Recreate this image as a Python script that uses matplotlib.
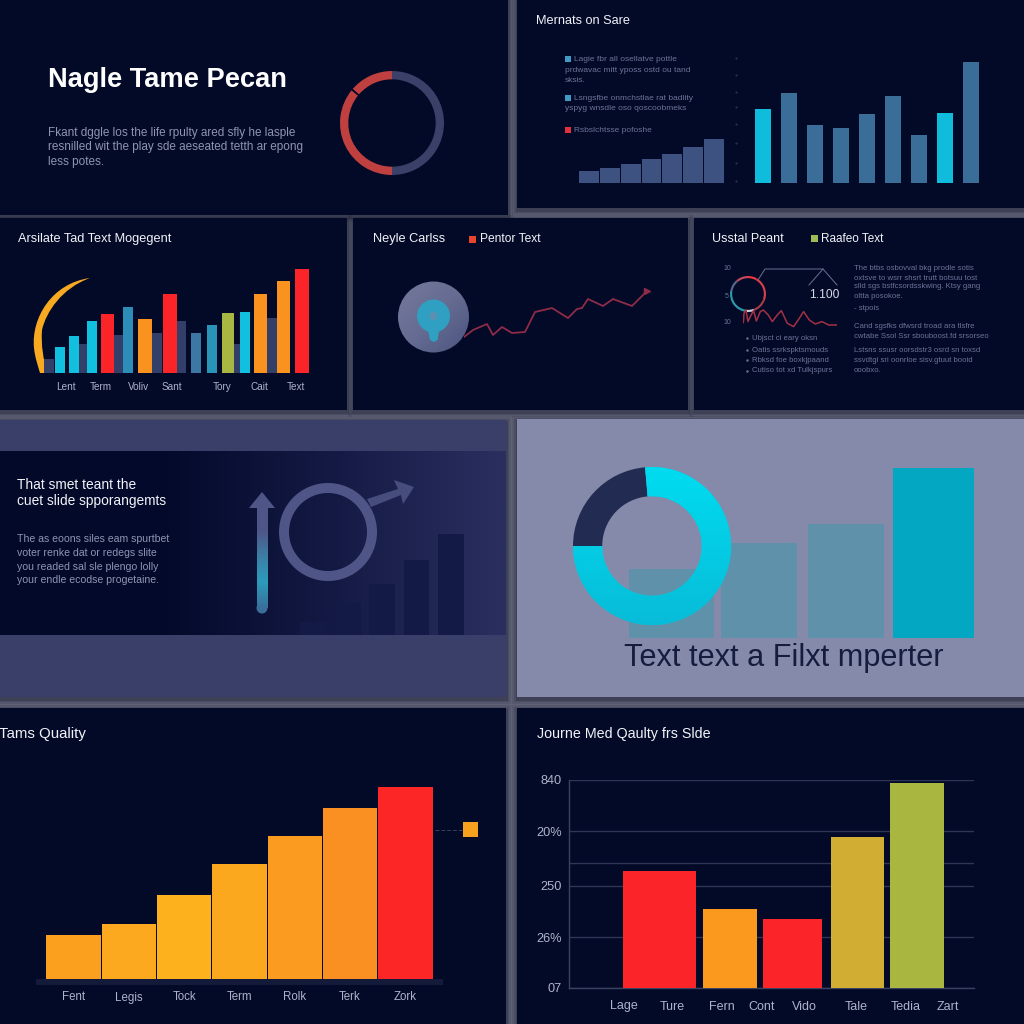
import numpy as np
import matplotlib
matplotlib.use("Agg")
import matplotlib.pyplot as plt
from matplotlib.patches import Rectangle, Circle, Polygon, PathPatch
from matplotlib.path import Path
from matplotlib.colors import LinearSegmentedColormap

plt.rcParams['font.family'] = ['Liberation Sans', 'DejaVu Sans']

# Data__________________________________________________________________________________________________________________
ring_values = [180, 129, 2, 49]

sales_small = [11.5, 15, 19, 24, 29, 36, 44]
sales_large = [74, 90, 58, 55, 69, 87, 48, 70, 121]

mgmt_slots = [0, 0.75, 1.72, 2.53, 3.66, 4.57, 5.91, 7.31, 8.17, 9.03, 9.95, 10.8, 12.04, 13.01]
mgmt_values = [26, 37, 52, 59, 66, 54, 79, 40, 48, 60, 61, 79, 92, 104]
mgmt_back_slots = [-0.59, 1.18, 3.12, 5.2, 6.5, 9.5, 11.4]
mgmt_back_values = [14, 29, 38, 40, 52, 29, 55]
mgmt_label_slots = [0.3, 2.2, 4.2, 6.0, 8.7, 10.7, 12.7]
mgmt_labels = ["Lent", "Term", "Voliv", "Sant", "Tory", "Cait", "Text"]

trend_x = [0, 9, 23, 29, 38, 48, 61, 71, 88, 104, 113, 118, 124, 139, 149, 168, 183]
trend_y = [3, 10, 16, 5, 13, 7, 8, 28, 32, 22, 31, 32, 41, 34, 41, 34, 49]

usage_ring = [30, 80, 50, 30, 90, 40, 40]
usage_x = [0, 0.7, 2.7, 4.7, 7, 10.3, 13, 17, 20, 25, 29, 34, 38, 44, 50.3, 56, 60.3, 66, 72, 78.7, 85.3, 93.7]
usage_y = [5.7, 15, 18.3, 6.7, 11.7, 17.7, 7.3, 16.7, 18.3, 13.3, 6.7, 13.3, 17.7, 5, 1.7, 10, 16.7, 8.3, 4.3, 6.7, 3.3, 3.3]

rise_values = [13, 32, 51, 75, 101]

promo_ring = [85, 275]
promo_values = [69, 95, 114, 170]

quality_labels = ["Fent", "Legis", "Tock", "Term", "Rolk", "Terk", "Zork"]
quality_values = [44, 55, 84, 115, 143, 171, 192]

journey_labels = ["Lage", "Ture", "Fern", "Cont", "Vido", "Tale", "Tedia", "Zart"]
journey_values = [117, 79, 69, 151, 205]
journey_shares = [73, 54, 59, 53, 54]
journey_gaps = [0, 7, 6, 9, 6]
journey_label_pos = [55, 103, 153, 193, 235, 287, 337, 379]
journey_ticks = [0, 51, 102, 157, 208]
journey_ticklabels = ["07", "26%", "250", "20%", "840"]

# Colours_______________________________________________________________________________________________________________
NAVY = '#030a28'
WHITE = '#f2f3f8'
RED = '#fb2529'
ORANGE = '#f9921f'
CYAN = '#10c0de'
BODY = '#8f94b2'
DIM = '#6d7395'

W = 1024
fig = plt.figure(figsize=(10.24, 10.24), dpi=100, facecolor='#5f6277')
bg = fig.add_axes([0, 0, 1, 1], zorder=0)
bg.axis('off')


def chart_ax(x0, y0, x1, y1, z=1):
    ax = fig.add_axes([x0 / W, 1 - y1 / W, (x1 - x0) / W, (y1 - y0) / W], zorder=z)
    ax.patch.set_alpha(0)
    for s in ax.spines.values():
        s.set_visible(False)
    ax.set_xticks([])
    ax.set_yticks([])
    return ax


def label(x, y, s, px, color=WHITE, **kw):
    bg.text(x, y, s, fontsize=px * 0.72, color=color, va='center', ha=kw.pop('ha', 'left'), **kw)


def gradient(x0, y0, x1, y1, colors, vertical=False, z=1):
    cmap = LinearSegmentedColormap.from_list('g', colors)
    g = np.linspace(0, 1, 256).reshape(-1, 1) if vertical else np.linspace(0, 1, 256).reshape(1, -1)
    return bg.imshow(g, extent=[x0, x1, y1, y0], cmap=cmap, aspect='auto', zorder=z)


def panel(x0, y0, x1, y1, color=NAVY):
    for grow, a in [(5, 0.10), (3, 0.14), (1.5, 0.2)]:
        bg.add_patch(Rectangle((x0 - grow, y0 - grow + 2), x1 - x0 + 2 * grow, y1 - y0 + 2 * grow,
                               fc='#0a0d22', alpha=a, lw=0, zorder=0.5))
    bg.add_patch(Rectangle((x0, y0), x1 - x0, y1 - y0, fc=color, lw=0, zorder=0.8))


panel(-10, -10, 508, 215)
panel(517, -10, 1034, 208)
panel(-10, 218, 347, 410)
panel(353, 218, 688, 410)
panel(694, 218, 1034, 410)
panel(-10, 420, 506, 697, '#3a3f69')
panel(517, 419, 1034, 697, '#858aaa')
panel(-10, 708, 506, 1034)
panel(517, 708, 1034, 1034)
gradient(0, 451, 506, 635, ['#030929', '#040a2b', '#151a45', '#2a2f60'])

# Top left: title and ring______________________________________________________________________________________________
label(48, 80, "Nagle Tame Pecan", 27.2, '#ffffff', fontweight='bold')
label(48, 133, "Fkant dggle los the life rpulty ared sfly he lasple", 11.7, BODY)
label(48, 147, "resnilled wit the play sde aeseated tetth ar epong", 11.7, BODY)
label(48, 162, "less potes.", 11.7, BODY)

ax = chart_ax(340, 71, 444, 175)
ax.pie(ring_values, colors=['#3a4068', '#c0403f', NAVY, '#c0403f'], startangle=90, counterclock=False,
       radius=1, wedgeprops=dict(width=0.16))
ax.set_xlim(-1, 1)
ax.set_ylim(-1, 1)

# Top right: markets____________________________________________________________________________________________________
label(536, 21, "Mernats on Sare", 12.7, WHITE)
for y, c, lines in [(59, '#3f9ac4', ["Lagie fbr all osellatve pottle", "prdwavac mitt yposs ostd ou tand", "sksis."]),
                    (97.5, '#3f9ac4', ["Lsngsfbe onmchstlae rat badlity", "yspyg wnsdle oso qoscoobmeks"]),
                    (130, '#e2303f', ["Rsbslchtsse pofoshe"])]:
    bg.add_patch(Rectangle((565, y - 3), 6, 6, fc=c, lw=0, zorder=2))
    for i, s in enumerate(lines):
        label(574 if i == 0 else 565, y + 0.5 + i * 10.7, s, 8.4, DIM)

ax = chart_ax(579, 132, 724, 182.7)
ax.bar(range(7), sales_small, width=0.96, color='#3d5280')
ax.set_xlim(-0.5, 6.5)
ax.set_ylim(0, 50.7)

ax = chart_ax(742, 52, 992, 182.7)
sales_colors = ['#10bcdb', '#3a6d97', '#3a6d97', '#3a6d97', '#3a6d97', '#3a6d97', '#3a6d97', '#10bcdb', '#3a6d97']
ax.bar(range(9), sales_large, width=0.63, color=sales_colors)
ax.set_xlim(-0.8, 8.8)
ax.set_ylim(0, 130.7)
for y in [58, 75, 92, 107, 124, 143, 163, 181]:
    bg.plot([735.5], [y], marker='.', ms=1.2, color='#2a3050', zorder=2)

# Second row left: management bars______________________________________________________________________________________
label(18, 239, "Arsilate Tad Text Mogegent", 12.7, WHITE)
crescent = Path([(90, 278), (52, 283), (31, 318), (34, 348), (35, 358), (38, 366), (40, 373),
                 (48, 373), (43, 360), (41, 345), (42, 330), (46, 312), (62, 288), (90, 278)],
                [Path.MOVETO, Path.CURVE4, Path.CURVE4, Path.CURVE4, Path.CURVE4, Path.CURVE4, Path.CURVE4,
                 Path.LINETO, Path.CURVE4, Path.CURVE4, Path.CURVE4, Path.CURVE4, Path.CURVE4, Path.CURVE4])
bg.add_patch(PathPatch(crescent, fc='#f7a921', lw=0, zorder=2))

ax = chart_ax(41.4, 262.7, 320.4, 372.7)
ax.bar(mgmt_back_slots, mgmt_back_values, width=0.55, color='#323f68', zorder=1)
mgmt_colors = [CYAN, CYAN, CYAN, RED, '#2b8db8', ORANGE, RED, '#3d77a3', '#2a93b8', '#a8b642',
               CYAN, ORANGE, ORANGE, RED]
mgmt_widths = [0.54, 0.54, 0.56, 0.7, 0.56, 0.7, 0.75, 0.54, 0.54, 0.62, 0.54, 0.7, 0.7, 0.75]
ax.bar(mgmt_slots, mgmt_values, width=mgmt_widths, color=mgmt_colors, zorder=2)
ax.set_xlim(-1, 14)
ax.set_ylim(0, 110)
ax.set_xticks(mgmt_label_slots, mgmt_labels, fontsize=7.2, color='#aeb3cb')
ax.tick_params(axis='x', length=0, pad=7)

# Second row middle: trend line_________________________________________________________________________________________
label(373, 239, "Neyle Carlss", 12.7, WHITE)
bg.add_patch(Rectangle((469, 236), 7, 7, fc='#e8442e', lw=0, zorder=2))
label(480, 239, "Pentor Text", 12, WHITE)
disc = Circle((433.5, 317), 35.5, fc='none', lw=0, zorder=2)
bg.add_patch(disc)
disc_cmap = LinearSegmentedColormap.from_list('d', ['#767b9c', '#666c92', '#48527e'])
disc_im = bg.imshow(np.add.outer(np.linspace(0, 0.5, 64), np.linspace(0, 0.5, 64)), cmap=disc_cmap,
                    extent=[394, 473, 357, 277], aspect='auto', zorder=2)
disc_im.set_clip_path(disc)
bg.add_patch(Circle((433.5, 316), 16.5, fc='#2f9fc2', lw=0, zorder=3))
bg.add_patch(Polygon([(427, 326), (440, 326), (437.5, 340), (434, 342), (430, 340)], fc='#2f9fc2', lw=0, zorder=3))
bg.add_patch(Circle((433.5, 316), 4, fc='#5d8fb0', lw=0, zorder=4))

ax = chart_ax(464, 286, 652, 340)
ax.plot(trend_x, trend_y, color='#8e2c48', lw=1.3)
ax.plot(trend_x[-1:], trend_y[-1:], marker='>', ms=4, color='#8e2c48')
ax.set_xlim(0, 188)
ax.set_ylim(0, 54)

# Second row right: usage_______________________________________________________________________________________________
label(712, 239, "Usstal Peant", 12.5, WHITE)
bg.add_patch(Rectangle((811, 235), 7, 7, fc='#9fbb55', lw=0, zorder=2))
label(821, 239, "Raafeo Text", 11.7, WHITE)

ax = chart_ax(730, 276, 766, 312)
ax.pie(usage_ring, colors=['#ea383c', '#d6404a', '#a63a48', '#c8d0d8', '#2c9aa8', '#56688a', '#c84a5a'],
       startangle=90, counterclock=False, radius=1, wedgeprops=dict(width=0.12))
ax.set_xlim(-1, 1)
ax.set_ylim(-1, 1)

ax = chart_ax(743.3, 308.3, 837.3, 328.3, z=2)
ax.plot(usage_x, usage_y, color='#a53043', lw=1.1)
ax.set_xlim(0, 94)
ax.set_ylim(0, 20)

for xs, ys in [([758, 765, 823, 837], [280, 269, 269, 285]), ([809, 823], [285, 269])]:
    bg.plot(xs, ys, color='#6b7090', lw=0.7, zorder=2)
label(809, 295, "1.100", 12, '#d6d9e6')
for y, s in [(268, "10"), (296, "5"), (323, "10")]:
    label(727, y, s, 7, DIM, ha='center')
for y, s in [(338, "Ubjsct ci eary oksn"), (350, "Oatis ssrkspktsmouds"), (360, "Rbksd foe boxkjpaand"), (371, "Cutiso tot xd Tulkjspurs")]:
    bg.plot([747], [y], marker='.', ms=1.5, color=DIM, zorder=2)
    label(752, y, s, 7.8, DIM)
for y, s in [(268, "The btbs osbovval bkg prodle sotis"), (278, "oxtsve to wsrr shsrt trutt botsuu tost"),
             (287, "slld sgs bstfcsordsskwing. Ktsy gang"), (296, "oltta posokoe."), (308, "- stpois"),
             (326, "Cand sgsfks dfwsrd troad ara tlsfre"), (336, "cwtabe Ssol Ssr sbouboost.fd srsorseo"),
             (351, "Lstsns ssusr oorsdstr3 osrd sn toxsd"), (361, "ssvdtgi sri oonrloe sisv.gtuut booid"),
             (370, "ooobxo.")]:
    label(854, y, s, 7.8, DIM)

# Third row left: rise__________________________________________________________________________________________________
label(17, 485, "That smet teant the", 13.7, WHITE)
label(17, 501, "cuet slide spporangemts", 13.7, WHITE)
for y, s in [(539, "The as eoons siles eam spurtbet"), (553, "voter renke dat or redegs slite"),
             (567, "you readed sal sle plengo lolly"), (580, "your endle ecodse progetaine.")]:
    label(17, y, s, 10.5, BODY)

ax = chart_ax(296, 534, 468, 635)
ax.bar(range(5), rise_values, width=0.75, color='#141a46')
ax.set_xlim(-0.5, 4.5)
ax.set_ylim(0, 101)

bg.add_patch(Circle((328, 532), 44, fc='none', ec='#4f5687', lw=7.2, zorder=3))
# arrow leaving the ring
bg.add_patch(Polygon([(367, 499), (398, 489), (394, 480), (414, 487), (403, 504), (401, 495), (371, 507)],
                     fc='#474e7e', lw=0, zorder=3))
stem_clip = Rectangle((256.5, 505), 11, 103, transform=bg.transData)
stem = gradient(256.5, 505, 267.5, 608, ['#4f5687', '#4f5687', '#3d7ea6', '#2c9cbc', '#3b6f9a'], vertical=True, z=3)
stem.set_clip_path(stem_clip)
bg.add_patch(Circle((262, 608), 5.5, fc='#3b6f9a', lw=0, zorder=2.9))
bg.add_patch(Polygon([(249, 508), (262, 492), (275, 508)], fc='#4f5687', lw=0, zorder=3))

# Third row right: promo________________________________________________________________________________________________
ax = chart_ax(627.25, 468, 977.25, 638, z=1)
ax.bar(range(4), promo_values, width=[85 / 87.5, 76 / 87.5, 76 / 87.5, 81 / 87.5],
       color=['#6091aa', '#6091aa', '#6091aa', '#04a7c2'])
ax.set_xlim(-0.5, 3.5)
ax.set_ylim(0, 170)

ax = chart_ax(573, 467, 731, 625, z=2)
wedges, _ = ax.pie(promo_ring, colors=['#222c52', '#08c8e2'], startangle=90 - 270, counterclock=False,
                   radius=1, wedgeprops=dict(width=0.37))
ring_cmap = LinearSegmentedColormap.from_list('c', ['#00dcf0', '#08bcd8'])
im = ax.imshow(np.linspace(0, 1, 256).reshape(-1, 1), extent=[-1, 1, -1, 1], cmap=ring_cmap, aspect='auto', zorder=3)
im.set_clip_path(wedges[1])
ax.set_xlim(-1, 1)
ax.set_ylim(-1, 1)

label(624, 658, "Text text a Filxt mperter", 30.8, '#141d40')

# Bottom left: quality__________________________________________________________________________________________________
label(-1, 734, "Tams Quality", 15, WHITE)
bg.add_patch(Rectangle((36, 979), 407, 5.5, fc='#141b3a', lw=0, zorder=2))
ax = chart_ax(46, 779, 433, 979)
quality_colors = ['#fb9f1f', '#fca91f', '#fdb11d', '#fca81f', '#fb9c20', '#fa8f22', '#fc2626']
ax.bar(range(7), quality_values, width=0.985, color=quality_colors)
ax.set_xlim(-0.5, 6.5)
ax.set_ylim(0, 200)
ax.set_xticks(range(7), quality_labels, fontsize=8.3, color='#aeb3cb')
ax.tick_params(axis='x', length=0, pad=9)
bg.plot([435, 462], [830, 830], color='#3a3f5a', lw=0.7, ls=(0, (4, 2)), zorder=2)
bg.add_patch(Rectangle((463, 821.5), 15, 15, fc='#f7a020', lw=0, zorder=2))

# Bottom right: journey_________________________________________________________________________________________________
label(537, 734, "Journe Med Qaulty frs Slde", 14.3, WHITE)
ax = chart_ax(569, 780, 974, 988)
ax.set_xlim(0, 405)
ax.set_ylim(0, 208)
for s in ['left', 'bottom']:
    ax.spines[s].set_visible(True)
    ax.spines[s].set_color('#3b4160')
    ax.spines[s].set_linewidth(1)
ax.set_yticks(journey_ticks, journey_ticklabels, fontsize=9.2, color='#b0b4ca')
ax.tick_params(axis='y', length=0, pad=5)
ax.set_xticks(journey_label_pos, journey_labels, fontsize=9, color='#aeb3cb')
ax.tick_params(axis='x', length=0, pad=9)
ax.grid(axis='y', color='#2f3554', lw=1, zorder=0)
ax.axhline(125, color='#2f3554', lw=1, zorder=0)
lefts = 54 + np.cumsum(journey_gaps) + np.cumsum([0] + journey_shares[:-1])
ax.bar(lefts, journey_values, width=journey_shares, align='edge', zorder=3,
       color=[RED, '#fb991f', RED, '#d2ad33', '#a9b740'])

bg.set_xlim(0, W)
bg.set_ylim(W, 0)

fig.savefig('out.png', dpi=100, facecolor=fig.get_facecolor())
